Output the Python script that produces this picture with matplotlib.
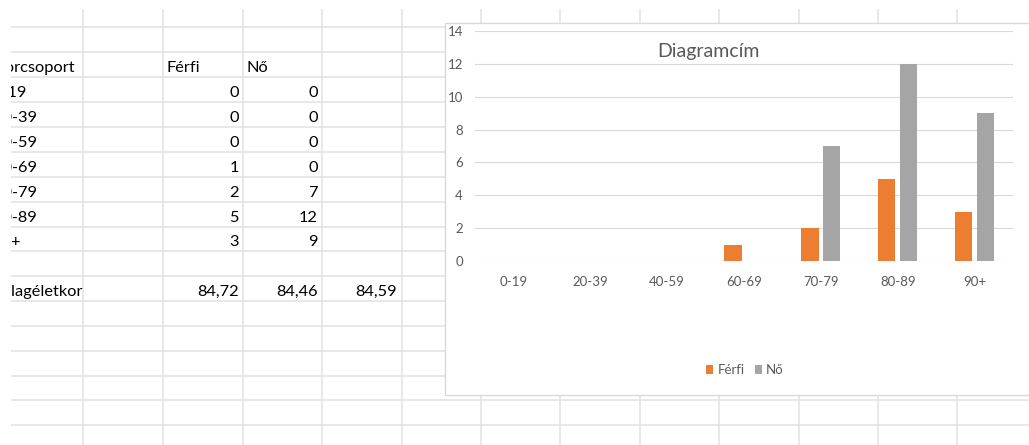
import matplotlib
matplotlib.use("Agg")
import matplotlib.pyplot as plt
from matplotlib.patches import Rectangle
import numpy as np

plt.rcParams['font.family'] = ['Lato', 'DejaVu Sans']

# ---- data ----
age_groups = ["0-19", "20-39", "40-59", "60-69", "70-79", "80-89", "90+"]
ferfi = [0, 0, 0, 1, 2, 5, 3]
no = [0, 0, 0, 0, 7, 12, 9]
avg_ages = [84.72, 84.46, 84.59]
header = ["Korcsoport", "Férfi", "Nő"]
avg_label = "Átlagéletkor"
chart_title = "Diagramcím"
y_ticks = [0, 2, 4, 6, 8, 10, 12, 14]

W, H = 1029, 445
fig = plt.figure(figsize=(W / 100, H / 100), dpi=100)
fig.patch.set_facecolor('white')

# ---- spreadsheet layer (pixel coordinates) ----
sheet = fig.add_axes([11 / W, 0, (W - 11) / W, 1])
sheet.set_xlim(11, W)
sheet.set_ylim(H, 0)
sheet.axis('off')
sheet.set_zorder(0)

grid_col = '#E1E1E1'
row_lines = [27, 52, 77, 102, 127, 152, 177, 202, 227, 251, 276, 301, 326, 351, 376, 400, 425]
col_lines = [83, 163, 243, 322, 402, 481, 560, 640, 719, 799, 878, 957]
for y in row_lines:
    sheet.plot([11, W], [y, y], color=grid_col, lw=1.1, solid_capstyle='butt', zorder=1)
for x in col_lines:
    sheet.plot([x, x], [9, H], color=grid_col, lw=1.1, solid_capstyle='butt', zorder=1)

cell_font = dict(fontsize=11.8, color='black', va='baseline', clip_on=True, zorder=3)
# header row (52-77)
sheet.text(75, 72, header[0], ha='right', **cell_font)
sheet.text(167, 72, header[1], ha='left', **cell_font)
sheet.text(247, 72, header[2], ha='left', **cell_font)
row_bottoms = [102, 127, 152, 177, 202, 227, 251]
label_ends = [27, 37.5, 37.5, 37.5, 37.5, 37.5, 21]
for i, (g, f, n) in enumerate(zip(age_groups, ferfi, no)):
    yb = row_bottoms[i] - 5
    sheet.text(label_ends[i], yb, g, ha='right', **cell_font)
    sheet.text(239, yb, str(f), ha='right', **cell_font)
    sheet.text(318, yb, str(n), ha='right', **cell_font)
# average row (276-301)
sheet.text(83, 296, avg_label, ha='right', **cell_font)
for x, v in zip([239, 318, 397], avg_ages):
    sheet.text(x, 296, f"{v:.2f}".replace('.', ','), ha='right', **cell_font)

# chart area
sheet.add_patch(Rectangle((445, 23), 700, 372, facecolor='white',
                          edgecolor='#D9D9D9', lw=1.0, zorder=5))
sheet.text(708, 51, chart_title, ha='center', va='center', fontsize=14,
           color='#595959', zorder=6)

# ---- chart plot area ----
ax = fig.add_axes([475 / W, 1 - 261 / H, (1013 - 475) / W, (261 - 31) / H])
ax.set_zorder(2)
ax.patch.set_visible(False)
x = np.arange(len(age_groups))
w = 1 / 4.46
off = w / 2 + 0.27 * w / 2
ax.bar(x - off, ferfi, width=w, color='#ED7D31', label='Férfi', zorder=3)
ax.bar(x + off, no, width=w, color='#A5A5A5', label='Nő', zorder=3)
ax.set_xlim(-0.5, len(age_groups) - 0.5)
ax.set_ylim(0, 14)
ax.set_yticks(y_ticks)
ax.set_xticks(x)
ax.set_xticklabels(age_groups)
ax.yaxis.grid(True, color='#D9D9D9', lw=0.8, zorder=0)
ax.set_axisbelow(True)
for s in ax.spines.values():
    s.set_visible(False)
ax.tick_params(axis='both', length=0, labelsize=9.5, labelcolor='#595959')
ax.tick_params(axis='y', pad=8.6)
ax.tick_params(axis='x', pad=11)

leg = ax.legend(loc='center', bbox_to_anchor=(745 / W, 1 - 370 / H),
                bbox_transform=fig.transFigure, ncol=2, frameon=False,
                fontsize=9.5, handlelength=0.55, handleheight=0.75,
                handletextpad=0.3, columnspacing=0.8, borderpad=0)
for t in leg.get_texts():
    t.set_color('#595959')

fig.savefig('out.png', dpi=100, facecolor='white')
